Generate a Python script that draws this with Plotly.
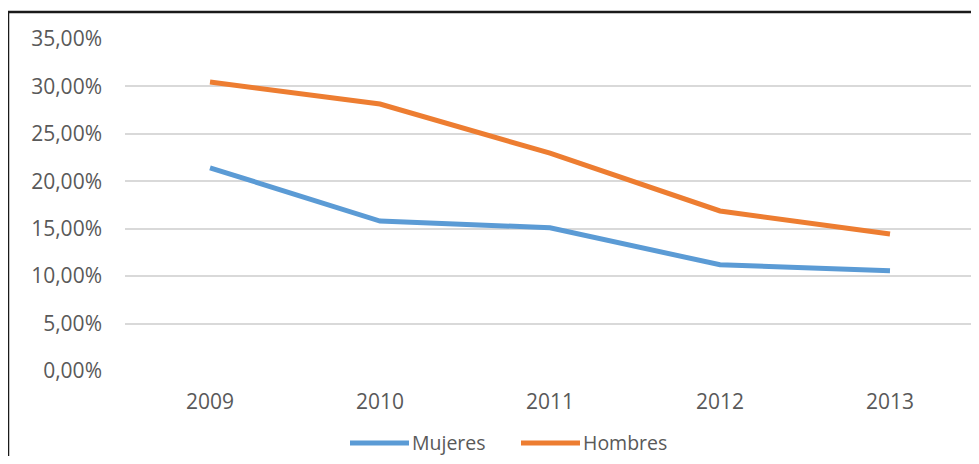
import plotly.graph_objects as go

years = ["2009", "2010", "2011", "2012", "2013"]
mujeres = [21.42, 15.81, 15.10, 11.20, 10.58]
hombres = [30.47, 28.14, 22.96, 16.87, 14.44]
y_ticks = [0, 5, 10, 15, 20, 25, 30, 35]
y_tick_labels = ["0,00%", "5,00%", "10,00%", "15,00%", "20,00%",
                 "25,00%", "30,00%", "35,00%"]
series_names = ["Mujeres", "Hombres"]
series_colors = ["#5B9BD5", "#ED7D31"]

# figure sized so that, with the page's 8px body margin, it fits 979x464
W, H = 963, 448
L, R, T = 117, 0, 31
pw = W - L - R
ph = 332
B = H - T - ph

font = dict(family="Open Sans", size=21, color="#595959")
leg_font = dict(family="Open Sans", size=19.5, color="#595959")

def px_x(fx):
    return (fx - L) / pw

def px_y(fy):
    return (T + ph - fy) / ph

fig = go.Figure()
for name, vals, col in zip(series_names, [mujeres, hombres], series_colors):
    fig.add_trace(go.Scatter(x=years, y=vals, mode="lines", name=name,
                             line=dict(color=col, width=5), showlegend=False))

# custom legend (long line swatches as in the reference)
shapes = [dict(type="rect", xref="paper", yref="paper",
               x0=px_x(0), x1=1.3, y0=-0.6, y1=px_y(4),
               line=dict(color="#1a1a1a", width=2.5), layer="below")]
annotations = []
leg_x = [342, 513]
leg_y = 434
for name, col, lx in zip(series_names, series_colors, leg_x):
    shapes.append(dict(type="line", xref="paper", yref="paper",
                       x0=px_x(lx), x1=px_x(lx + 59), y0=px_y(leg_y + 1), y1=px_y(leg_y + 1),
                       line=dict(color=col, width=5)))
    annotations.append(dict(xref="paper", yref="paper", x=px_x(lx + 60), y=px_y(leg_y),
                            xanchor="left", yanchor="middle", text=name,
                            showarrow=False, font=leg_font))

fig.update_layout(
    width=W, height=H,
    margin=dict(l=L, r=R, t=T, b=B, autoexpand=False),
    paper_bgcolor="white", plot_bgcolor="white",
    font=font,
    showlegend=False,
    xaxis=dict(type="category", range=[-0.5, -0.5 + pw / 170], showgrid=False,
               showline=False, zeroline=False, ticks="",
               ticklabelstandoff=16, tickfont=font),
    yaxis=dict(range=[0, 35], tickvals=y_ticks, ticktext=y_tick_labels,
               showgrid=True, gridcolor="#d9d9d9",
               gridwidth=2, zeroline=False, showline=False, ticks="",
               ticklabelstandoff=22, tickfont=font),
    shapes=shapes,
    annotations=annotations,
)

fig.write_html("out.html")
